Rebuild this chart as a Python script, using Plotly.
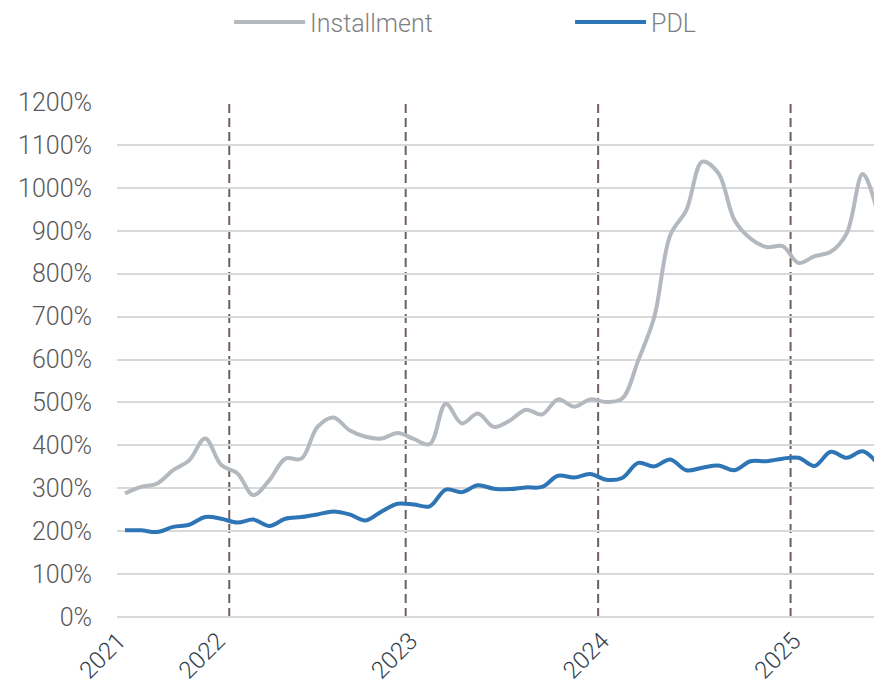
import plotly.graph_objects as go

# Monthly observations (index positions on the category axis)
installment = [288, 303, 311, 342, 365, 416, 354, 335, 284, 319, 369, 369,
               443, 465, 435, 420, 416, 429, 415, 403, 497, 451, 474, 443,
               458, 483, 472, 507, 490, 507, 501, 509, 598, 699, 890, 948,
               1061, 1034, 925, 882, 862, 864, 825, 841, 851, 894, 1032, 931]
pdl = [202, 202, 198, 210, 215, 233, 229, 220, 227, 212, 229, 233,
       239, 246, 239, 225, 246, 264, 262, 258, 297, 291, 307, 299,
       298, 302, 303, 329, 325, 333, 320, 324, 359, 351, 367, 342,
       348, 353, 342, 363, 363, 369, 371, 352, 385, 371, 386, 354]

year_labels = ["2021", "2022", "2023", "2024", "2025"]
year_label_positions = [-0.4, 5.8, 17.8, 29.75, 41.7]  # where the year labels sit
year_bounds = [6.5, 17.5, 29.5, 41.5]                   # dashed year separators

y_ticks = list(range(0, 1201, 100))
y_tick_labels = [f"{v}%" for v in y_ticks]

idx = list(range(len(installment)))

FONT = "Roboto, Liberation Sans, Arial, sans-serif"

fig = go.Figure()
fig.add_trace(go.Scatter(x=idx, y=installment, name="Installment", mode="lines",
                         line=dict(color="#B3B9BF", width=4, shape="spline", smoothing=1.0)))
fig.add_trace(go.Scatter(x=idx, y=pdl, name="PDL", mode="lines",
                         line=dict(color="#2E75B6", width=4, shape="spline", smoothing=1.0)))

for xb in year_bounds:
    fig.add_shape(type="line", xref="x", yref="paper", x0=xb, x1=xb, y0=0, y1=1,
                  line=dict(color="#6F605A", width=2, dash="9px,5px"), layer="below")

fig.update_layout(
    width=874, height=683,
    margin=dict(l=109, r=0, t=94, b=74, autoexpand=False),
    paper_bgcolor="white", plot_bgcolor="white",
    font=dict(family=FONT, size=25, color="#595959", weight=300),
    showlegend=True,
    legend=dict(orientation="h", x=0.1465, xanchor="left", y=1.155, yanchor="middle",
                font=dict(family=FONT, size=25, color="#7F7F7F", weight=300), itemwidth=71,
                entrywidth=255, entrywidthmode="pixels", bgcolor="rgba(0,0,0,0)"),
    xaxis=dict(range=[-0.5, 47.2], tickmode="array", tickvals=year_label_positions,
               ticktext=year_labels, tickangle=-45, showgrid=False, zeroline=False,
               showline=False, ticks="",
               tickfont=dict(family=FONT, size=24, color="#333F50", weight=300),
               ticklabelstandoff=4, automargin=False),
    yaxis=dict(range=[0, 1200], tickmode="array", tickvals=y_ticks, ticktext=y_tick_labels,
               showgrid=True, gridcolor="#D9D9D9", gridwidth=2, zeroline=True,
               zerolinecolor="#D9D9D9", zerolinewidth=2, showline=False, ticks="",
               tickfont=dict(family=FONT, size=25, color="#595959", weight=300),
               ticklabelstandoff=24, automargin=False),
)

fig.write_html("out.html")
